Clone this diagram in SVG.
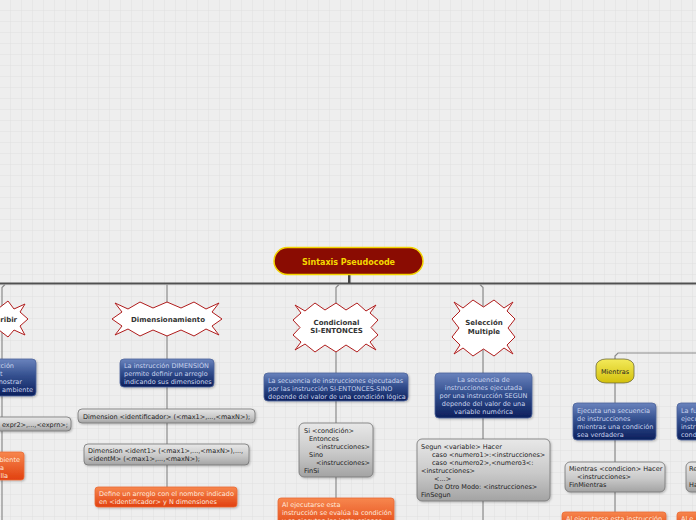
<svg xmlns="http://www.w3.org/2000/svg" width="696" height="520" viewBox="0 0 696 520">
<defs>
<pattern id="grid" width="11" height="11" patternUnits="userSpaceOnUse">
<rect width="11" height="11" fill="#eeeeee"/>
<path d="M11,0 V11 M0,11 H11" stroke="#e0e0e0" stroke-width="1" fill="none"/>
</pattern>
<linearGradient id="gBlue" x1="0" y1="0" x2="0" y2="1">
<stop offset="0" stop-color="#6a83bd"/><stop offset="0.45" stop-color="#34508f"/><stop offset="1" stop-color="#0c1f5c"/>
</linearGradient>
<linearGradient id="gGray" x1="0" y1="0" x2="0" y2="1">
<stop offset="0" stop-color="#e8e8e8"/><stop offset="0.55" stop-color="#c9c9c9"/><stop offset="1" stop-color="#a3a3a3"/>
</linearGradient>
<linearGradient id="gOrange" x1="0" y1="0" x2="0" y2="1">
<stop offset="0" stop-color="#f7874e"/><stop offset="1" stop-color="#e1400f"/>
</linearGradient>
<linearGradient id="gYellow" x1="0" y1="0" x2="0" y2="1">
<stop offset="0" stop-color="#f3ea5a"/><stop offset="1" stop-color="#d3c00c"/>
</linearGradient>
<filter id="sh" x="-10%" y="-10%" width="125%" height="130%">
<feDropShadow dx="1" dy="1" stdDeviation="0.8" flood-color="#000" flood-opacity="0.25"/>
</filter>
</defs>
<style>
text{font-family:"DejaVu Sans",Verdana,sans-serif;}
.blue{fill:url(#gBlue);stroke:#4d639a;stroke-width:0.8;filter:url(#sh);}
.gray{fill:url(#gGray);stroke:#747474;stroke-width:0.8;filter:url(#sh);}
.orange{fill:url(#gOrange);stroke:#ea6a35;stroke-width:0.8;filter:url(#sh);}
.star{fill:#ffffff;stroke:#b01c1c;stroke-width:1;}
.bt{font-size:6.5px;fill:#c9d4ee;}
.gt{font-size:6.5px;fill:#222222;}
.ot{font-size:6.5px;fill:#ffe9dd;}
.st{font-size:7px;font-weight:bold;fill:#333333;text-anchor:middle;}
.conn{fill:none;stroke:#8c8c8c;stroke-width:1.2;}
</style>
<rect width="696" height="520" fill="url(#grid)"/>

<g id="connectors">
<line x1="0" y1="283.5" x2="696" y2="283.5" stroke="#505050" stroke-width="2"/>
<rect x="348" y="275" width="2.5" height="8" fill="#444444"/>
<path class="conn" d="M5,284.5 L2,287.5 V520"/>
<path class="conn" d="M167,284.5 V487"/>
<path class="conn" d="M339,284.5 L336,287.5 V498"/>
<path class="conn" d="M480,284.5 L483,287.5 V520"/>
<path class="conn" d="M696,353 H618 L615,356 V512"/>
</g>

<g id="root">
<rect x="274" y="247.5" width="149" height="27" rx="13.5" fill="#8a0c02" stroke="#f2d400" stroke-width="1.5"/>
<text x="348.5" y="264.5" font-size="8px" font-weight="bold" fill="#f5d800" text-anchor="middle">Sintaxis Pseudocode</text>
</g>

<g id="escribir">
<polygon class="star" points="-32,319 -22,312 -10,301 -1,308 8,301 14,309 25,304 20,312 28,319 20,326 25,335 14,330 8,337 -1,330 -10,337 -22,326"/>
<text class="st" x="17" y="321.5" style="text-anchor:end">ribir</text>
</g>
<g id="escribir-desc">
<rect class="blue" x="-10" y="359" width="46" height="37" rx="4"/>
<text class="bt" x="14" y="368" text-anchor="end">cción</text>
<text class="bt" x="2.5" y="376" text-anchor="end">t</text>
<text class="bt" x="22" y="384" text-anchor="end">nostrar</text>
<text class="bt" x="33" y="392" text-anchor="end">ambiente</text>
</g>
<g id="escribir-syntax">
<rect class="gray" x="-10" y="417" width="81" height="14" rx="4"/>
<text class="gt" x="68" y="426.5" text-anchor="end">expr2&gt;,...,&lt;exprn&gt;;</text>
</g>
<g id="escribir-note">
<rect class="orange" x="-10" y="452" width="34" height="28" rx="3"/>
<text class="ot" x="20" y="461.5" text-anchor="end">biente</text>
<text class="ot" x="4" y="469.5" text-anchor="end">a</text>
<text class="ot" x="8" y="477.5" text-anchor="end">lla</text>
</g>

<g id="dimensionamiento">
<polygon class="star" points="115,303 128,309 140,302 153,308 167,302 181,308 194,302 206,309 219,303 212,312 222,319 212,326 219,335 206,329 194,336 181,330 167,336 153,330 140,336 128,329 115,335 122,326 112,319 122,312"/>
<text class="st" x="168" y="321.5">Dimensionamiento</text>
</g>
<g id="dim-desc">
<rect class="blue" x="120" y="359" width="94" height="28" rx="4"/>
<text class="bt" x="124" y="367.5">La instrucción DIMENSIÓN</text>
<text class="bt" x="124" y="375.5">permite definir un arreglo</text>
<text class="bt" x="124" y="383.5">indicando sus dimensiones</text>
</g>
<g id="dim-syntax1">
<rect class="gray" x="78" y="409" width="177" height="14" rx="4"/>
<text class="gt" x="83" y="418.5">Dimension &lt;identificador&gt; (&lt;max1&gt;,...,&lt;maxN&gt;);</text>
</g>
<g id="dim-syntax2">
<rect class="gray" x="84" y="444" width="165" height="21" rx="4"/>
<text class="gt" x="88" y="453">Dimension &lt;ident1&gt; (&lt;max1&gt;,...,&lt;maxN&gt;),...,</text>
<text class="gt" x="88" y="461">&lt;identM&gt; (&lt;max1&gt;,...,&lt;maxN&gt;);</text>
</g>
<g id="dim-note">
<rect class="orange" x="95" y="487" width="142" height="20" rx="3"/>
<text class="ot" x="99" y="495.5">Define un arreglo con el nombre indicado</text>
<text class="ot" x="99" y="503.5">en &lt;identificador&gt; y N dimensiones</text>
</g>

<g id="condicional">
<polygon class="star" points="295,305 305,311 315,303 325,310 336,303 346,310 357,303 366,311 376,305 370,313 378,320 371,327.5 378,335 370,342 376,350 366,344 357,352 346,345 336,352 325,345 315,352 305,344 295,350 301,342 293,335 300,327.5 293,320 301,313"/>
<text class="st" x="336.5" y="324.5">Condicional</text>
<text class="st" x="336.5" y="332.5">SI-ENTONCES</text>
</g>
<g id="cond-desc">
<rect class="blue" x="264" y="373" width="144" height="28" rx="4"/>
<text class="bt" x="268" y="382.5">La secuencia de instrucciones ejecutadas</text>
<text class="bt" x="268" y="390.5">por las instrucción SI-ENTONCES-SINO</text>
<text class="bt" x="268" y="398.5">depende del valor de una condición lógica</text>
</g>
<g id="cond-syntax">
<rect class="gray" x="299" y="423" width="74" height="54" rx="5"/>
<text class="gt" x="304" y="433">Si &lt;condición&gt;</text>
<text class="gt" x="309" y="441">Entonces</text>
<text class="gt" x="316" y="449">&lt;instrucciones&gt;</text>
<text class="gt" x="309" y="457">Sino</text>
<text class="gt" x="316" y="465">&lt;instrucciones&gt;</text>
<text class="gt" x="304" y="473">FinSi</text>
</g>
<g id="cond-note">
<rect class="orange" x="278" y="498" width="116" height="34" rx="3"/>
<text class="ot" x="282" y="506.5">Al ejecutarse esta</text>
<text class="ot" x="282" y="514.5">instrucción se evalúa la condición</text>
<text class="ot" x="282" y="522.5">y se ejecutan las instrucciones</text>
</g>

<g id="seleccion">
<polygon class="star" points="454,302 463,308 473,300 483.5,307 494,300 504,308 513,302 507,311 515,319 508,328 515,337 507,345 513,354 504,348 494,356 483.5,349 473,356 463,348 454,354 460,345 452,337 459,328 452,319 460,311"/>
<text class="st" x="484" y="324.5">Selección</text>
<text class="st" x="484" y="333.5">Multiple</text>
</g>
<g id="sel-desc">
<rect class="blue" x="435" y="373" width="97" height="45" rx="4"/>
<text class="bt" x="483.5" y="381.5" text-anchor="middle">La secuencia de</text>
<text class="bt" x="483.5" y="389.5" text-anchor="middle">instrucciones ejecutada</text>
<text class="bt" x="483.5" y="397.5" text-anchor="middle">por una instrucción SEGUN</text>
<text class="bt" x="483.5" y="405.5" text-anchor="middle">depende del valor de una</text>
<text class="bt" x="483.5" y="413.5" text-anchor="middle">variable numérica</text>
</g>
<g id="sel-syntax">
<rect class="gray" x="417" y="439" width="133" height="62" rx="5"/>
<text class="gt" x="421" y="448.5">Segun &lt;variable&gt; Hacer</text>
<text class="gt" x="432" y="457">caso &lt;numero1&gt;:&lt;instrucciones&gt;</text>
<text class="gt" x="432" y="465">caso &lt;numero2&gt;,&lt;numero3&lt;:</text>
<text class="gt" x="421" y="473">&lt;instrucciones&gt;</text>
<text class="gt" x="434" y="481">&lt;...&gt;</text>
<text class="gt" x="434" y="489">De Otro Modo: &lt;instrucciones&gt;</text>
<text class="gt" x="421" y="497">FinSegun</text>
</g>

<g id="mientras">
<rect x="596" y="359" width="38" height="24" rx="10" ry="7" fill="url(#gYellow)" stroke="#6d6a3a" stroke-width="0.8"/>
<text x="615" y="373.5" font-size="6.5px" fill="#222" text-anchor="middle">Mientras</text>
</g>
<g id="mientras-desc">
<rect class="blue" x="573" y="403" width="83" height="37" rx="4"/>
<text class="bt" x="577" y="413">Ejecuta una secuencia</text>
<text class="bt" x="577" y="421">de instrucciones</text>
<text class="bt" x="577" y="429">mientras una condición</text>
<text class="bt" x="577" y="437">sea verdadera</text>
</g>
<g id="mientras-syntax">
<rect class="gray" x="565" y="462" width="100" height="30" rx="5"/>
<text class="gt" x="569" y="470.5">Mientras &lt;condicion&gt; Hacer</text>
<text class="gt" x="577" y="478.5">&lt;instrucciones&gt;</text>
<text class="gt" x="569" y="486.5">FinMientras</text>
</g>
<g id="mientras-note">
<rect class="orange" x="562" y="512" width="104" height="20" rx="3"/>
<text class="ot" x="566" y="520.5">Al ejecutarse esta instrucción</text>
</g>

<g id="next-desc">
<rect class="blue" x="677" y="403" width="40" height="37" rx="4"/>
<text class="bt" x="681" y="413">La fu</text>
<text class="bt" x="681" y="421">ejecu</text>
<text class="bt" x="681" y="429">instr</text>
<text class="bt" x="681" y="437">cond</text>
</g>
<g id="next-syntax">
<rect class="gray" x="686" y="462" width="30" height="30" rx="5"/>
<text class="gt" x="689" y="470.5">Re</text>
<text class="gt" x="689" y="486.5">Ha</text>
</g>
<g id="next-note">
<rect class="orange" x="677" y="512" width="40" height="20" rx="3"/>
<text class="ot" x="681" y="520.5">Al e</text>
</g>
</svg>
